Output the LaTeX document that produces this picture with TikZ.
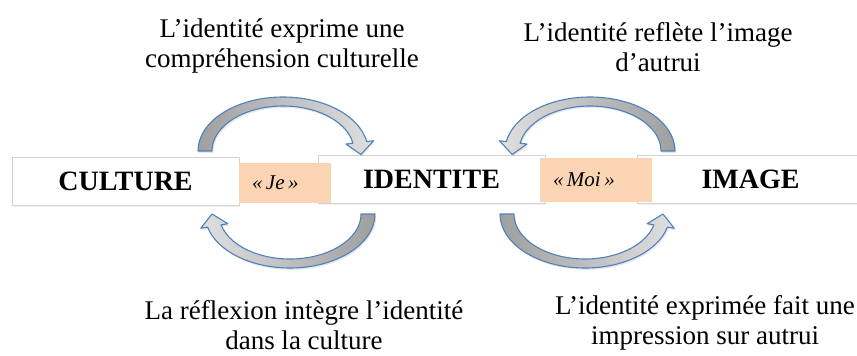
\documentclass[tikz,border=0pt]{standalone}
\usepackage{fontspec}
\setmainfont{Liberation Serif}
\usepackage{xcolor}
\usepackage{tikz}
\usetikzlibrary{calc,shadows}

\definecolor{peach}{HTML}{FBD4B4}
\definecolor{arcblue}{HTML}{4F81BD}

\tikzset{
	bigbox/.style={draw=gray!35, line width=0.6pt, fill=white, minimum width=227pt, minimum height=48pt,
		font=\fontsize{28}{30}\selectfont\bfseries, drop shadow={opacity=0.12, shadow xshift=0.8pt, shadow yshift=-1.5pt}},
	pronoun/.style={fill=peach, inner xsep=13pt, align=left, font=\fontsize{21}{23}\selectfont\itshape},
	caption/.style={align=center, anchor=base, font=\fontsize{27}{30}\selectfont},
	bentarrow/.style={draw=arcblue, line width=1.1pt, line join=round,
		drop shadow={opacity=0.2, shadow xshift=1.2pt, shadow yshift=-1.8pt}}
}

\begin{document}
\begin{tikzpicture}[x=1pt, y=-1pt]
\useasboundingbox (0,0) rectangle (857,356);

\node[bigbox] (culture) at (125.5,181) {CULTURE};
\node[bigbox] (identite) at (431.5,179) {IDENTITE};
\node[bigbox] (image) at (750.5,179) {IMAGE};

\node[pronoun, text width=66pt, minimum height=40pt] (je) at (285,183) {«\,Je\,»};
\node[pronoun, text width=86pt, minimum height=44pt] (moi) at (596,180) {«\,Moi\,»};

\coordinate (tl) at (283,151);
\coordinate (tr) at (590,151);
\coordinate (bl) at (290,214);
\coordinate (br) at (585,214);

% centre / tail angle / head angle / tip angle / shading
\foreach \c/\a/\b/\t/\lc/\rc in {tl/180/350/364/gray!75/gray!25, tr/360/190/176/gray!25/gray!75,
	bl/0/166/180/gray!25/gray!75, br/180/14/0/gray!75/gray!25}{
	\draw[bentarrow, left color=\lc, right color=\rc]
		($(\c)+(\a:85 and 54)$) arc[start angle=\a, end angle=\b, x radius=85, y radius=54]
		-- ($(\c)+(\b:92 and 59)$) -- ($(\c)+(\t:78 and 49.5)$) -- ($(\c)+(\b:64 and 40)$)
		-- ($(\c)+(\b:71 and 45)$) arc[start angle=\b, end angle=\a, x radius=71, y radius=45] -- cycle;
}

\node[caption] (exprime) at (282,67) {L’identité exprime une\\compréhension culturelle};
\node[caption] (reflete) at (658,71) {L’identité reflète l’image\\d’autrui};
\node[caption] (reflexion) at (304,349) {La réflexion intègre l’identité\\dans la culture};
\node[caption] (impression) at (705,344) {L’identité exprimée fait une\\impression sur autrui};
\end{tikzpicture}
\end{document}
